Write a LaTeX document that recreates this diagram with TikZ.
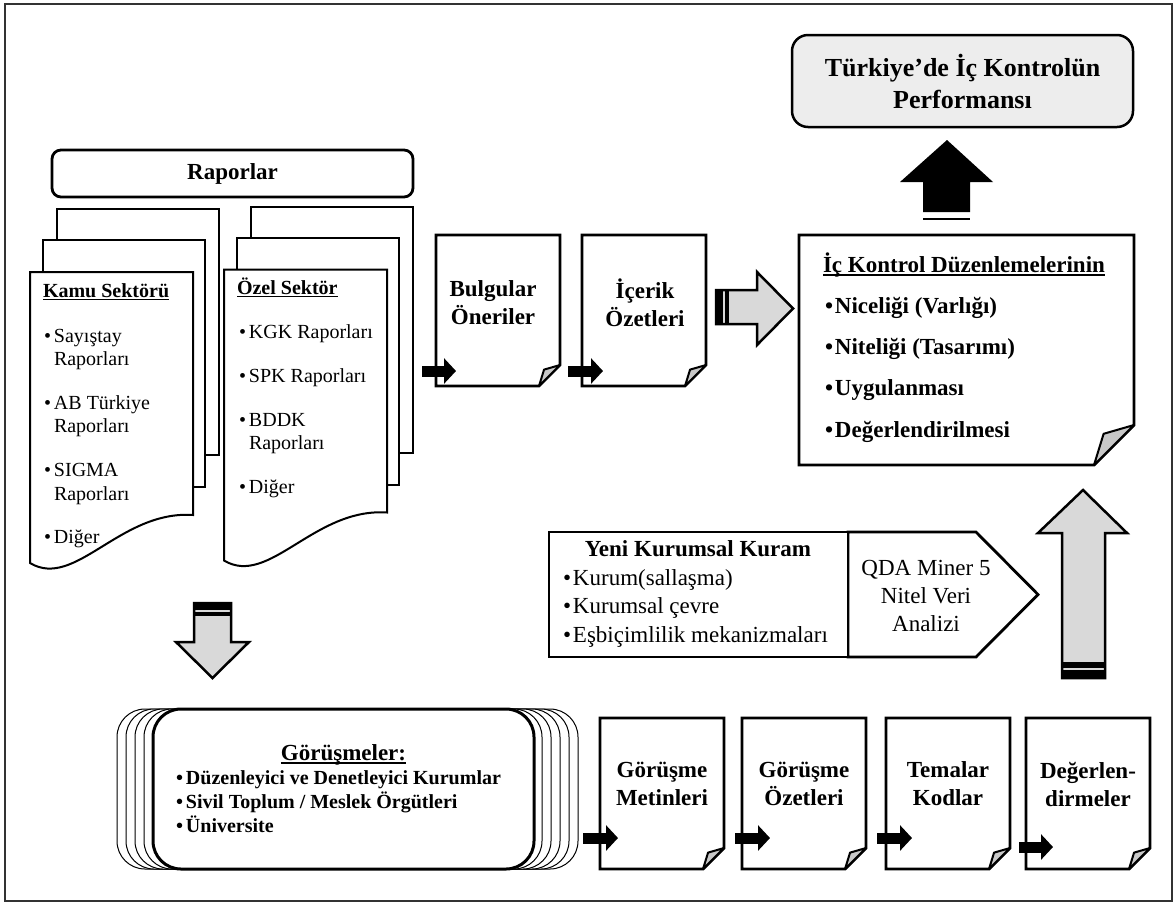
\documentclass[tikz,border=0pt]{standalone}
\usepackage{fontspec}
\setmainfont{Liberation Serif}
\usetikzlibrary{arrows.meta}

\definecolor{arrowgray}{HTML}{D9D9D9}
\definecolor{titlegray}{HTML}{EDEDED}
\definecolor{flapgray}{HTML}{C8C8C8}

% underline at a fixed distance below the baseline
\newsavebox\ulbox
\newcommand\myul[1]{\sbox\ulbox{#1}\rlap{\rule[-3pt]{\wd\ulbox}{1.4pt}}\usebox\ulbox}
% bullet with a fixed advance before the item text
\newcommand\bul[1][10pt]{\makebox[#1][l]{•}}

\newcommand\fbig{\fontsize{23}{28}\selectfont}
\newcommand\fsmall{\fontsize{20}{23}\selectfont}
\newcommand\ftitle{\fontsize{26}{32}\selectfont}

\tikzset{
  lbl/.style={inner sep=0pt, outer sep=0pt},
  lbig/.style={lbl, font=\fbig, text height=16pt, text depth=5pt},
  lbigb/.style={lbl, font=\fbig\bfseries, text height=16pt, text depth=5pt},
  lsmall/.style={lbl, font=\fsmall, text height=14pt, text depth=4pt},
  lsmallb/.style={lbl, font=\fsmall\bfseries, text height=14pt, text depth=4pt},
  ptext/.style={lbl, font=\fbig\bfseries, align=center},
  pageline/.style={draw=black, line width=2.8pt, fill=white, line join=miter},
  flap/.style={draw=black, line width=2pt, fill=flapgray, line join=round},
  stackpage/.style={draw=black, line width=2pt, fill=white, line join=miter},
  blockarrow/.style={draw=black, line width=2.5pt, fill=arrowgray, line join=miter},
  tailbar/.style={fill=black, draw=none},
  inarrow/.style={line width=11pt, -{Triangle[length=12pt,width=25pt]}},
  backbox/.style={draw=black, line width=1pt, fill=white, rounded corners=28pt},
}

% page with a folded bottom-right corner: name, left, top, right, bottom, fold size
\newcommand\foldpage[6]{%
  \pgfmathsetmacro\fpA{#5-#6}%
  \pgfmathsetmacro\fpB{#4-#6}%
  \pgfmathsetmacro\fpX{#4-0.76*#6}%
  \pgfmathsetmacro\fpY{#5-0.78*#6}%
  \node[lbl, minimum width={(#4-#2)*1pt}, minimum height={(#5-#3)*1pt}]
    (#1) at ({(#2+#4)/2},{(#3+#5)/2}) {};
  \draw[pageline] (#1.north west) -- (#1.north east) -- (#4,\fpA)
    -- (\fpB,#5) -- (#1.south west) -- cycle;
  \draw[flap] (#4,\fpA) -- (\fpX,\fpY) -- (\fpB,#5) -- cycle;
}

% stack of three report pages with a wavy bottom on the front one
\newcommand\docstack[2]{%
  \begin{scope}[shift={(#1,#2)}]
    \draw[stackpage] (57,209) rectangle (219,455);
    \draw[stackpage] (43,240) rectangle (205,487);
    \draw[stackpage] (30,272) -- (193,272) -- (193,515)
      .. controls (120,510) and (75,590) .. (30,563) -- cycle;
  \end{scope}}

\begin{document}
\begin{tikzpicture}[x=1pt, y=-1pt]
\useasboundingbox (0,0) rectangle (1175,903);

% outer frame
\draw[black!80, line width=1.6pt] (5,4) rectangle (1172,901);

% ---------- result box and black arrow ----------
\node[lbl, draw=black, line width=2.5pt, fill=titlegray, rounded corners=16pt,
      minimum width=341pt, minimum height=92pt, align=center,
      font=\ftitle\bfseries] (perf) at (962.5,81) {Türkiye’de İç Kontrolün\\Performansı};
\fill[black] (923,212) -- (923,182) -- (900,182) -- (947,140) -- (993,182)
  -- (970,182) -- (970,212) -- cycle;
\draw[black, line width=1.5pt] (923,219) -- (970,219);

% ---------- internal control box ----------
\foldpage{icbox}{799}{235}{1134}{465}{40}
\node[lbigb, anchor=west] (ict) at (823,267) {\myul{İç Kontrol Düzenlemelerinin}};
\node[lbigb, anchor=west] (ic1) at (825,308) {\bul Niceliği (Varlığı)};
\node[lbigb, anchor=west] (ic2) at (825,349) {\bul Niteliği (Tasarımı)};
\node[lbigb, anchor=west] (ic3) at (825,390) {\bul Uygulanması};
\node[lbigb, anchor=west] (ic4) at (825,432) {\bul Değerlendirilmesi};

% ---------- reports ----------
\node[lbl, draw=black, line width=2.8pt, rounded corners=9pt, fill=white,
      minimum width=361pt, minimum height=47pt, font=\fbig\bfseries]
      (rap) at (232.5,173.5) {Raporlar};

\docstack{0}{0}
\docstack{194}{-2.5}

\node[lsmallb, anchor=west] (kamu) at (43,292) {\myul{Kamu Sektörü}};
\node[lsmall, anchor=west] (k1a) at (44,337) {\bul Sayıştay};
\node[lsmall, anchor=west] (k1b) at (54,360) {Raporları};
\node[lsmall, anchor=west] (k2a) at (44,404) {\bul AB Türkiye};
\node[lsmall, anchor=west] (k2b) at (54,427) {Raporları};
\node[lsmall, anchor=west] (k3a) at (44,471) {\bul SIGMA};
\node[lsmall, anchor=west] (k3b) at (54,495) {Raporları};
\node[lsmall, anchor=west] (k4) at (44,538) {\bul Diğer};

\node[lsmallb, anchor=west] (ozel) at (237,289) {\myul{Özel Sektör}};
\node[lsmall, anchor=west] (o1) at (239,333) {\bul KGK Raporları};
\node[lsmall, anchor=west] (o2) at (239,377) {\bul SPK Raporları};
\node[lsmall, anchor=west] (o3a) at (239,421) {\bul BDDK};
\node[lsmall, anchor=west] (o3b) at (249,444) {Raporları};
\node[lsmall, anchor=west] (o4) at (239,488) {\bul Diğer};

% ---------- findings pages ----------
\foldpage{bul}{436}{235}{560}{386}{21}
\node[ptext] (bult) at (493,303) {Bulgular\\Öneriler};
\foldpage{ice}{582}{235}{706}{386}{21}
\node[ptext] (icet) at (645,303) {İçerik\\Özetleri};

\coordinate (inA) at (422,371); \coordinate (inAe) at (456,371);
\coordinate (inB) at (568,371); \coordinate (inBe) at (603,371);
\draw[inarrow] (inA) -- (inAe);
\draw[inarrow] (inB) -- (inBe);

% gray arrow into the internal control box
\draw[blockarrow] (716,290) -- (757,290) -- (757,272) -- (793,308.5) -- (757,345)
  -- (757,324) -- (716,324) -- cycle;
\fill[tailbar] (715,289) rectangle (723,325);
\fill[tailbar] (725,289) rectangle (729,325);

% ---------- theory box and analysis pentagon ----------
\draw[draw=black, line width=2.8pt, fill=white, line join=miter]
  (848,532) -- (976,532) -- (1038,594.5) -- (976,657) -- (848,657) -- cycle;
\node[lbl, draw=black, line width=2.8pt, fill=white, minimum width=299pt,
      minimum height=125pt] (yeni) at (698.5,594.5) {};
\node[lbigb] (yenit) at (698,551) {Yeni Kurumsal Kuram};
\node[lbig, anchor=west] (y1) at (563,580) {\bul Kurum(sallaşma)};
\node[lbig, anchor=west] (y2) at (563,608) {\bul Kurumsal çevre};
\node[lbig, anchor=west] (y3) at (563,637) {\bul Eşbiçimlilik mekanizmaları};
\node[lbl, font=\fbig, align=center] (qda) at (926,596) {QDA Miner 5\\Nitel Veri\\Analizi};

% gray arrow up to the internal control box
\draw[blockarrow] (1062,678) -- (1062,533) -- (1038,533) -- (1083,490) -- (1127,533)
  -- (1105,533) -- (1105,678) -- cycle;
\fill[tailbar] (1061,670) rectangle (1106,679);
\fill[tailbar] (1061,662) rectangle (1106,667.5);

% gray arrow down to the interviews
\draw[blockarrow] (194,603) -- (231,603) -- (231,642) -- (249,642) -- (212.5,678)
  -- (176,642) -- (194,642) -- cycle;
\fill[tailbar] (193,602) rectangle (232,610);
\fill[tailbar] (193,612) rectangle (232,616);

% ---------- interviews ----------
\foreach \dx in {44,35,26,17,8,-36,-27,-18,-9}
  \draw[backbox] ({153+\dx},709) rectangle ({534+\dx},869);
\node[lbl, draw=black, line width=3pt, fill=white, rounded corners=28pt,
      minimum width=381pt, minimum height=160pt] (gor) at (343.5,789) {};
\node[lbigb] (gort) at (343.5,755) {\myul{Görüşmeler:}};
\node[lsmallb, anchor=west] (g1) at (176,779) {\bul Düzenleyici ve Denetleyici Kurumlar};
\node[lsmallb, anchor=west] (g2) at (176,803) {\bul Sivil Toplum / Meslek Örgütleri};
\node[lsmallb, anchor=west] (g3) at (176,827) {\bul Üniversite};

% ---------- interview processing pages ----------
\foldpage{p1}{600}{718}{724}{869}{21}
\foldpage{p2}{742}{718}{866}{869}{21}
\foldpage{p3}{886}{718}{1010}{869}{21}
\foldpage{p4}{1026}{718}{1150}{869}{21}
\node[ptext] (p1t) at (662,784) {Görüşme\\Metinleri};
\node[ptext] (p2t) at (804,784) {Görüşme\\Özetleri};
\node[ptext] (p3t) at (948,784) {Temalar\\Kodlar};
\node[ptext] (p4t) at (1088,784) {Değerlen-\\dirmeler};

\coordinate (inC) at (583,838); \coordinate (inCe) at (618,838);
\coordinate (inD) at (735,838); \coordinate (inDe) at (770,838);
\coordinate (inE) at (877,838); \coordinate (inEe) at (912,838);
\coordinate (inF) at (1019,847); \coordinate (inFe) at (1053,847);
\draw[inarrow] (inC) -- (inCe);
\draw[inarrow] (inD) -- (inDe);
\draw[inarrow] (inE) -- (inEe);
\draw[inarrow] (inF) -- (inFe);

\end{tikzpicture}
\end{document}
